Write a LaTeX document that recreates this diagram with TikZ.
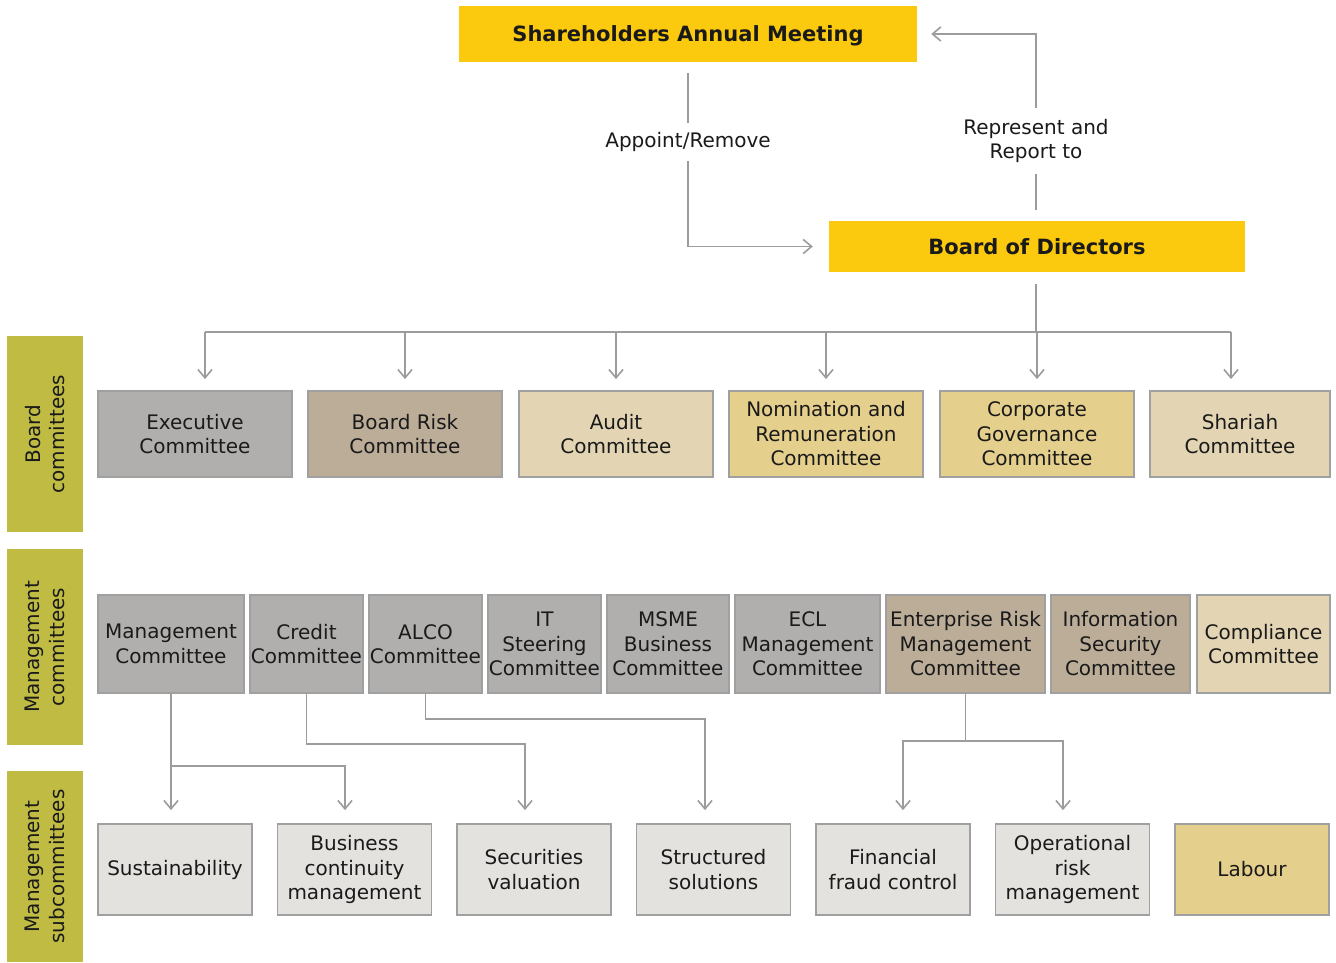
\documentclass[tikz,border=0pt]{standalone}
\usepackage{fontspec}
\setmainfont{DejaVu Sans}
\usepackage{xcolor}
\usepackage{tikz}
\usetikzlibrary{arrows.meta}

\definecolor{sunyellow}{RGB}{251,201,13}
\definecolor{olivebar}{RGB}{191,187,67}
\definecolor{stonegray}{RGB}{176,175,173}
\definecolor{taupe}{RGB}{188,173,152}
\definecolor{sand}{RGB}{227,213,179}
\definecolor{goldsand}{RGB}{229,207,140}
\definecolor{palegray}{RGB}{227,226,223}
\definecolor{boxedge}{RGB}{160,160,160}
\definecolor{linegray}{RGB}{156,156,156}
\definecolor{inkblack}{RGB}{26,26,26}

\begin{document}
\begin{tikzpicture}[x=1pt, y=-1pt,
    txt/.style={font=\fontsize{20}{24.5}\selectfont, text=inkblack, align=center},
    box/.style={txt, draw=boxedge, line width=1.8pt, inner sep=0pt},
    topbox/.style={fill=sunyellow, inner sep=0pt, text=inkblack, text height=15.5pt, text depth=0pt,
        font=\fontsize{21}{25}\selectfont\bfseries},
    side/.style={txt, fill=olivebar, rotate=90, inner sep=0pt, minimum height=76pt},
    link/.style={draw=linegray, line width=1.6pt},
    arrow/.style={link, -{Straight Barb[angle=80:11pt]}}]

        %FRAME
        \useasboundingbox (0,0) rectangle (1336,962);

        %TOP
        \node[topbox, minimum width=458pt, minimum height=56pt] (sam) at (688,34) {Shareholders Annual Meeting};
        \node[topbox, minimum width=416pt, minimum height=51pt] (bod) at (1037,246.5) {Board of Directors};
        \node[txt, minimum height=38pt] (appoint) at (688,142) {Appoint/Remove};
        \node[txt, minimum height=66pt] (report) at (1036,141) {Represent and\\Report to};

        %SIDE LABELS
        \node[side, minimum width=196pt] (boardlbl) at (45,434) {Board\\committees};
        \node[side, minimum width=196pt] (mgmtlbl) at (45,647) {Management\\committees};
        \node[side, minimum width=191pt] (sublbl) at (45,866.5) {Management\\subcommittees};

        %BOARD COMMITTEES
        \node[box, fill=stonegray, minimum width=194pt, minimum height=86pt] (exec) at (195,434) {Executive\\Committee};
        \node[box, fill=taupe, minimum width=194pt, minimum height=86pt] (brc) at (405,434) {Board Risk\\Committee};
        \node[box, fill=sand, minimum width=194pt, minimum height=86pt] (audit) at (616,434) {Audit\\Committee};
        \node[box, fill=goldsand, minimum width=194pt, minimum height=86pt] (nrc) at (826,434) {Nomination and\\Remuneration\\Committee};
        \node[box, fill=goldsand, minimum width=194pt, minimum height=86pt] (cgc) at (1037,434) {Corporate\\Governance\\Committee};
        \node[box, fill=sand, minimum width=180pt, minimum height=86pt] (shariah) at (1240,434) {Shariah\\Committee};

        %MANAGEMENT COMMITTEES
        \node[box, fill=stonegray, minimum width=146pt, minimum height=98pt] (mgmt) at (171,644) {Management\\Committee};
        \node[box, fill=stonegray, minimum width=113pt, minimum height=98pt] (credit) at (306.5,644) {Credit\\Committee};
        \node[box, fill=stonegray, minimum width=113pt, minimum height=98pt] (alco) at (425.5,644) {ALCO\\Committee};
        \node[box, fill=stonegray, minimum width=113pt, minimum height=98pt] (itsc) at (544.5,644) {IT\\Steering\\Committee};
        \node[box, fill=stonegray, minimum width=122pt, minimum height=98pt] (msme) at (668,644) {MSME\\Business\\Committee};
        \node[box, fill=stonegray, minimum width=145pt, minimum height=98pt] (ecl) at (807.5,644) {ECL\\Management\\Committee};
        \node[box, fill=taupe, minimum width=159pt, minimum height=98pt] (erm) at (965.5,644) {Enterprise Risk\\Management\\Committee};
        \node[box, fill=taupe, minimum width=139pt, minimum height=98pt] (isc) at (1120.5,644) {Information\\Security\\Committee};
        \node[box, fill=sand, minimum width=133pt, minimum height=98pt] (comp) at (1263.5,644) {Compliance\\Committee};

        %MANAGEMENT SUBCOMMITTEES
        \node[box, fill=palegray, minimum width=154pt, minimum height=91pt] (sust) at (175,869.5) {Sustainability};
        \node[box, fill=palegray, minimum width=154pt, minimum height=91pt] (bcm) at (354.5,869.5) {Business\\continuity\\management};
        \node[box, fill=palegray, minimum width=154pt, minimum height=91pt] (secv) at (534,869.5) {Securities\\valuation};
        \node[box, fill=palegray, minimum width=154pt, minimum height=91pt] (strs) at (713.5,869.5) {Structured\\solutions};
        \node[box, fill=palegray, minimum width=154pt, minimum height=91pt] (ffc) at (893,869.5) {Financial\\fraud control};
        \node[box, fill=palegray, minimum width=154pt, minimum height=91pt] (orm) at (1072.5,869.5) {Operational\\risk\\management};
        \node[box, fill=goldsand, minimum width=154pt, minimum height=91pt] (labour) at (1252,869.5) {Labour};

        %ARROWS TOP
        \draw[link] ([yshift=-11pt]sam.south -| appoint) -- (appoint.north);
        \draw[arrow, shorten >=16pt] (appoint.south) |- (bod.west);
        \draw[link] ([yshift=11pt]bod.north -| report) -- (report.south);
        \draw[arrow, shorten >=14pt] (report.north) |- (sam.east);

        %ARROWS BOARD
        \coordinate (bus) at (1036,332);
        \draw[link] ([yshift=-12pt]bod.south -| bus) -- (bus);
        \draw[link] ([xshift=10pt]exec.north |- bus) -- ([xshift=-9pt]shariah.north |- bus);
        \foreach \n/\dx in {exec/10,brc/0,audit/0,nrc/0,cgc/0,shariah/-9}
            \draw[arrow, shorten >=11pt] ([xshift=\dx pt]\n.north |- bus) -- ([xshift=\dx pt]\n.north);

        %ARROWS MANAGEMENT
        \coordinate (mgmtsplit) at (171,766);
        \draw[arrow, shorten >=13pt] (mgmt.south) -- (mgmt.south |- sust.north);
        \draw[arrow, shorten >=13pt] (mgmtsplit) -| ([xshift=-9.5pt]bcm.north);
        \draw[arrow, shorten >=13pt] (credit.south) -- ++(0,50) -| ([xshift=-9pt]secv.north);
        \draw[arrow, shorten >=13pt] (alco.south) -- ++(0,25) -| ([xshift=-8.5pt]strs.north);
        \draw[link] (erm.south) -- ++(0,47) coordinate (ermsplit);
        \draw[arrow, shorten >=13pt] (ermsplit) -| ([xshift=10pt]ffc.north);
        \draw[arrow, shorten >=13pt] (ermsplit) -| ([xshift=-9.5pt]orm.north);
    \end{tikzpicture}
\end{document}
